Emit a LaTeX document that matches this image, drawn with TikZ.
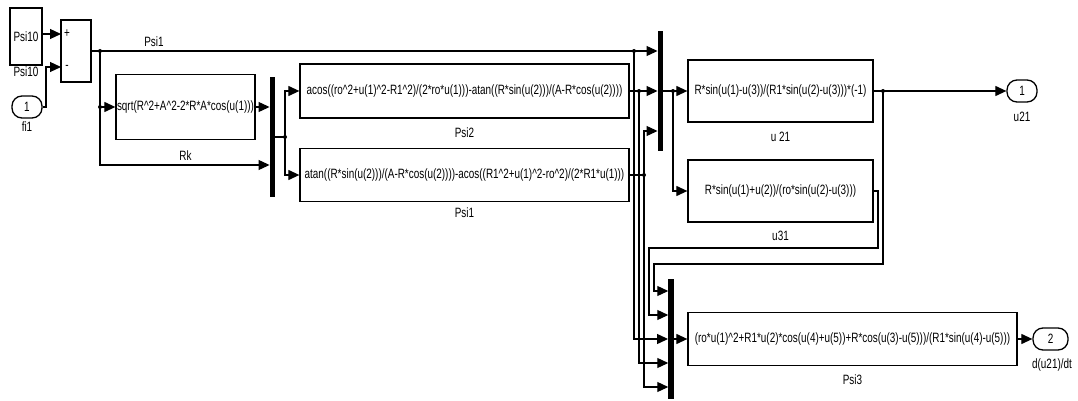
\documentclass[tikz,border=0pt]{standalone}
\usepackage{fontspec}
\setmainfont{Liberation Sans}[FakeStretch=0.735]
\usetikzlibrary{arrows.meta}
\newcommand{\pwr}{\textasciicircum}

\begin{document}
\begin{tikzpicture}[x=1pt,y=-1pt,font=\fontsize{13.5}{15}\selectfont,
	sig/.style={line width=1.2pt},
	sigin/.style={sig,-{Triangle[length=11pt,width=10pt]}},
	blok/.style={draw,line width=1.3pt,inner sep=0pt},
	mux/.style={fill=black,minimum width=5.5pt,minimum height=120pt,inner sep=0pt},
	port/.style={draw,line width=1.3pt,rounded corners=10pt,minimum width=30pt,minimum height=22pt,inner sep=0pt},
	lbl/.style={inner sep=0pt},
	dot/.style={circle,fill=black,inner sep=0pt,minimum size=4pt}]
	\useasboundingbox (0,0) rectangle (1078,401);
	% sources
	\node[blok, minimum width=32pt, minimum height=57pt] (c10) at (26,36.5) {Psi10};
	\node[lbl] (c10l) at (26,72) {Psi10};
	\node[port] (in1) at (27,107) {1};
	\node[lbl] (in1l) at (27,127) {fi1};
	\node[blok, minimum width=30pt, minimum height=62pt] (sum) at (76,51) {};
	\node[lbl] (sump) at (67,34) {+};
	\node[lbl] (summ) at (67,67) {-};
	% function blocks
	\node[blok, minimum width=139pt, minimum height=65pt] (fk) at (185.5,107) {sqrt(R\pwr2+A\pwr2-2*R*A*cos(u(1)))};
	\node[lbl] (fkl) at (185.5,156) {Rk};
	\node[mux] (mux1) at (272.5,137) {};
	\node[blok, minimum width=329pt, minimum height=54pt] (psi2) at (464.5,91) {acos((ro\pwr2+u(1)\pwr2-R1\pwr2)/(2*ro*u(1)))-atan((R*sin(u(2)))/(A-R*cos(u(2))))};
	\node[lbl] (psi2l) at (464.5,133) {Psi2};
	\node[blok, minimum width=329pt, minimum height=53pt] (psi1) at (464.5,175) {atan((R*sin(u(2)))/(A-R*cos(u(2))))-acos((R1\pwr2+u(1)\pwr2-ro\pwr2)/(2*R1*u(1)))};
	\node[lbl] (psi1l) at (464.5,213) {Psi1};
	\node[mux] (mux2) at (660.5,91) {};
	\node[blok, minimum width=185pt, minimum height=62pt] (u21) at (780.5,91) {R*sin(u(1)-u(3))/(R1*sin(u(2)-u(3)))*(-1)};
	\node[lbl] (u21l) at (780.5,137) {u 21};
	\node[blok, minimum width=185pt, minimum height=62pt] (u31) at (780.5,191) {R*sin(u(1)+u(2))/(ro*sin(u(2)-u(3)))};
	\node[lbl] (u31l) at (780.5,236) {u31};
	\node[mux] (mux3) at (671,339) {};
	\node[blok, minimum width=329pt, minimum height=53pt] (psi3) at (852.5,339) {(ro*u(1)\pwr2+R1*u(2)*cos(u(4)+u(5))+R*cos(u(3)-u(5)))/(R1*sin(u(4)-u(5)))};
	\node[lbl] (psi3l) at (852.5,380) {Psi3};
	% outputs
	\node[port] (out1) at (1022,91) {1};
	\node[lbl] (out1l) at (1022,117) {u21};
	\node[port, minimum width=35pt] (out2) at (1050.5,339) {2};
	\node[lbl] (out2l) at (1052,365) {d(u21)/dt};
	% branch points
	\coordinate (sp) at (61,34);
	\coordinate (sm) at (61,67);
	\coordinate (k1) at (46,107);
	\coordinate (b1) at (100,51);
	\coordinate (b2) at (100,107);
	\coordinate (k2) at (100,165);
	\coordinate (b3) at (285,137);
	\coordinate (b4) at (634,51);
	\coordinate (b5) at (639,91);
	\coordinate (b6) at (644,175);
	\coordinate (k4) at (644,131);
	\coordinate (b7) at (673,91);
	\coordinate (b8) at (883,91);
	\coordinate (k3) at (878,191);
	\coordinate (k5) at (654,264);
	\coordinate (k7) at (649,248);
	\coordinate (m3a) at (668.25,291);
	\coordinate (m3b) at (668.25,315);
	\coordinate (m3d) at (668.25,363);
	\coordinate (m3e) at (668.25,387);
	% signals
	\draw[sigin] (c10.east |- sp) -- (sp);
	\draw[sigin] (in1.east) -- (k1) |- (sm);
	\draw[sigin] (sum.east) -- (mux2.west |- b4) node[pos=0.11, above=4pt, lbl] {Psi1};
	\draw[sig] (b1) -- (b2);
	\draw[sigin] (b2) -- (fk.west);
	\draw[sigin] (b2) -- (k2) -- (mux1.west |- k2);
	\draw[sigin] (fk.east) -- (mux1.west |- fk.east);
	\draw[sig] (mux1.east) -- (b3);
	\draw[sigin] (b3) |- (psi2.west);
	\draw[sigin] (b3) |- (psi1.west);
	\draw[sigin] (psi2.east) -- (mux2.west |- b5);
	\draw[sig] (psi1.east) -- (b6);
	\draw[sigin] (b6) -- (k4) -- (mux2.west |- k4);
	\draw[sig] (mux2.east) -- (b7);
	\draw[sigin] (b7) -- (u21.west);
	\draw[sigin] (b7) |- (u31.west);
	\draw[sigin] (u21.east) -- (out1.west);
	\draw[sigin] (b8) |- (k5) |- (m3a);
	\draw[sigin] (u31.east) -- (k3) |- (k7) |- (m3b);
	\draw[sigin] (b4) |- (mux3.west);
	\draw[sigin] (b5) |- (m3d);
	\draw[sigin] (b6) |- (m3e);
	\draw[sigin] (mux3.east) -- (psi3.west);
	\draw[sigin] (psi3.east) -- (out2.west);
	\foreach \p in {b1,b2,b3,b4,b5,b6,b7,b8}
		\node[dot] at (\p) {};
\end{tikzpicture}
\end{document}
